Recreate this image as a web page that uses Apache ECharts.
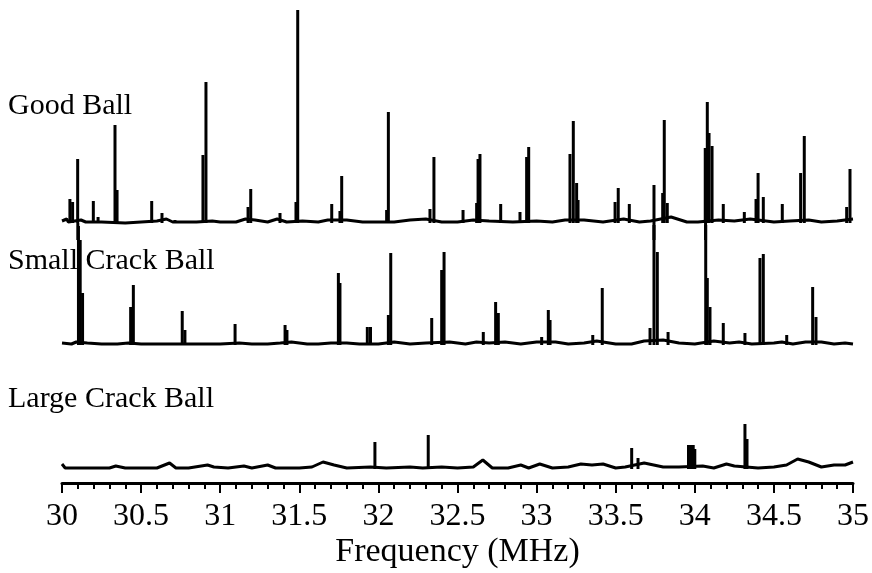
<!DOCTYPE html>
<html>
<head>
<meta charset="utf-8">
<script src="https://cdn.jsdelivr.net/npm/echarts@6/dist/echarts.min.js"></script>
<style>
  html, body { margin: 0; padding: 0; background: #fff; }
  #main { width: 872px; height: 573px; }
</style>
</head>
<body>
<div id="main"></div>
<script>
// frequency axis (MHz)
const freqMin = 30;
const freqMax = 35;
const freqStep = 0.5;
const spectrumNames = ['Good Ball', 'Small Crack Ball', 'Large Crack Ball'];

// peaks: [frequency MHz, amplitude]
const goodPeaks = [
  [30.05, 24], [30.067, 21], [30.099, 64], [30.1, -17], [30.198, 22], [30.228, 6],
  [30.335, 98], [30.348, 33], [30.567, 22], [30.632, 10], [30.714, 3],
  [30.891, 68], [30.91, 141], [31.176, 16], [31.193, 34], [31.378, 10],
  [31.479, 21], [31.49, 213], [31.705, 19], [31.757, 12], [31.768, 47],
  [32.052, 13], [32.063, 111], [32.326, 14], [32.351, 66], [32.535, 13],
  [32.621, 20], [32.63, 64], [32.642, 69], [32.773, 19], [32.895, 11],
  [32.937, 66], [32.95, 76], [33.211, 69], [33.232, 102], [33.253, 40],
  [33.262, 23], [33.496, 21], [33.516, 35], [33.586, 19], [33.742, 38], [33.742, -17],
  [33.797, 30], [33.807, 103], [33.826, 20], [34.066, 75], [34.068, -17], [34.079, 121],
  [34.09, 90], [34.109, 77], [34.18, 19], [34.313, 11], [34.387, 24],
  [34.4, 50], [34.433, 26], [34.553, 19], [34.669, 50], [34.692, 87],
  [34.96, 16], [34.981, 54]
];
const smallPeaks = [
  [30.104, 119], [30.115, 105], [30.13, 52], [30.434, 38], [30.451, 60],
  [30.76, 34], [30.777, 15], [31.094, 21], [31.41, 20], [31.422, 15],
  [31.747, 72], [31.757, 62], [31.93, 18], [31.95, 18], [32.063, 30],
  [32.078, 92], [32.337, 27], [32.4, 75], [32.415, 93], [32.663, 13],
  [32.741, 43], [32.758, 32], [33.032, 8], [33.074, 35], [33.085, 25],
  [33.355, 10], [33.415, 57], [33.717, 17], [33.742, 120], [33.763, 93],
  [33.831, 13], [34.069, 120], [34.079, 67], [34.096, 38], [34.18, 22],
  [34.317, 12], [34.412, 87], [34.433, 91], [34.581, 10], [34.745, 58],
  [34.766, 28]
];
const largePeaks = [
  [31.978, 27], [32.315, 34], [33.601, 21], [33.641, 11],
  [33.96, 24], [33.975, 24], [33.99, 24], [34.0, 20],
  [34.317, 45], [34.33, 30]
];

// background trace between the peaks: [frequency MHz, amplitude]
const goodBase = [
  [30.0, 2], [30.03, 4], [30.04, 1], [30.08, 2], [30.12, 3], [30.15, 1], [30.25, 1],
  [30.4, 0], [30.5, 1], [30.6, 2], [30.66, 4], [30.7, 1], [30.78, 1], [30.85, 1],
  [30.95, 2], [31.0, 1], [31.1, 1], [31.16, 4], [31.22, 3], [31.3, 1], [31.36, 4],
  [31.42, 1], [31.52, 2], [31.62, 1], [31.68, 3], [31.8, 3], [31.9, 1], [32.0, 1],
  [32.1, 1], [32.2, 3], [32.3, 4], [32.4, 1], [32.5, 1], [32.6, 3], [32.7, 2],
  [32.85, 1], [33.0, 2], [33.1, 1], [33.18, 3], [33.3, 3], [33.42, 1], [33.55, 4],
  [33.65, 1], [33.72, 2], [33.85, 6], [33.95, 1], [34.02, 1], [34.15, 3], [34.25, 2],
  [34.35, 4], [34.5, 1], [34.6, 2], [34.72, 3], [34.8, 1], [34.9, 2], [35.0, 4]
];
const smallBase = [
  [30.0, 2], [30.06, 1], [30.09, 3], [30.16, 2], [30.25, 1], [30.35, 1], [30.42, 2],
  [30.5, 1], [30.6, 1], [30.7, 1], [30.82, 1], [30.9, 1], [31.0, 1], [31.12, 2],
  [31.2, 1], [31.3, 1], [31.38, 2], [31.45, 3], [31.55, 1], [31.62, 1], [31.7, 2],
  [31.8, 2], [31.88, 1], [32.0, 1], [32.1, 3], [32.2, 1], [32.3, 2], [32.45, 3],
  [32.55, 1], [32.62, 3], [32.7, 2], [32.8, 3], [32.9, 1], [33.0, 3], [33.12, 3],
  [33.2, 1], [33.3, 2], [33.38, 4], [33.5, 1], [33.6, 1], [33.68, 4], [33.8, 5],
  [33.9, 2], [34.0, 1], [34.12, 4], [34.22, 2], [34.28, 3], [34.36, 1], [34.5, 2],
  [34.55, 3], [34.62, 1], [34.7, 3], [34.8, 3], [34.88, 1], [34.95, 2], [35.0, 1]
];
const largeBase = [
  [30.0, 5], [30.02, 1], [30.1, 1], [30.2, 1], [30.3, 1], [30.34, 3], [30.4, 1],
  [30.5, 1], [30.6, 1], [30.68, 6], [30.72, 1], [30.8, 1], [30.92, 4], [30.96, 2],
  [31.05, 1], [31.15, 3], [31.2, 1], [31.3, 4], [31.35, 1], [31.5, 1], [31.58, 2],
  [31.65, 7], [31.72, 4], [31.8, 1], [31.95, 2], [32.05, 1], [32.2, 2], [32.28, 1],
  [32.4, 2], [32.5, 1], [32.6, 2], [32.66, 9], [32.72, 1], [32.82, 1], [32.9, 4],
  [32.95, 1], [33.02, 5], [33.1, 1], [33.2, 2], [33.28, 5], [33.35, 4], [33.42, 5],
  [33.5, 1], [33.56, 2], [33.68, 6], [33.8, 2], [33.9, 2], [34.05, 3], [34.12, 1],
  [34.2, 5], [34.25, 3], [34.4, 1], [34.5, 2], [34.58, 4], [34.65, 10], [34.72, 7],
  [34.8, 2], [34.88, 4], [34.95, 4], [35.0, 7]
];

const serif = '"Liberation Serif", "Times New Roman", serif';
const ink = '#000';

// panels: top px, height px, amplitude range shown
const panels = [
  {top: 3, height: 240, min: -20, max: 220, titleTop: 91, base: goodBase, peaks: goodPeaks},
  {top: 215, height: 130, min: 0, max: 130, titleTop: 246, base: smallBase, peaks: smallPeaks},
  {top: 409, height: 60, min: 0, max: 60, titleTop: 384, base: largeBase, peaks: largePeaks}
];

const grids = panels.map(p => ({left: 62, right: 19, top: p.top, height: p.height}));

const xAxes = panels.map((p, i) => {
  const last = i === panels.length - 1;
  return {
    type: 'value',
    gridIndex: i,
    min: freqMin,
    max: freqMax,
    interval: freqStep,
    show: last,
    offset: last ? 14 : 0,
    name: last ? 'Frequency (MHz)' : '',
    nameLocation: 'middle',
    nameGap: 52,
    nameTextStyle: {fontFamily: serif, fontSize: 34, color: ink},
    axisLine: {show: last, onZero: false, lineStyle: {color: ink, width: 3}},
    axisTick: {show: last, length: 10, lineStyle: {color: ink, width: 2}},
    minorTick: {show: last, splitNumber: 5, length: 6, lineStyle: {color: ink, width: 2}},
    axisLabel: {
      show: last,
      margin: 18,
      fontFamily: serif,
      fontSize: 32,
      color: ink,
      formatter: v => String(+v.toFixed(1))
    },
    splitLine: {show: false}
  };
});

const yAxes = panels.map((p, i) => ({
  type: 'value',
  gridIndex: i,
  min: p.min,
  max: p.max,
  show: false,
  splitLine: {show: false}
}));

const series = [];
panels.forEach((p, i) => {
  series.push({
    type: 'line',
    name: spectrumNames[i],
    xAxisIndex: i,
    yAxisIndex: i,
    data: p.base,
    symbol: 'none',
    lineStyle: {color: ink, width: 3},
    z: 2
  });
  series.push({
    type: 'bar',
    name: spectrumNames[i] + ' peaks',
    xAxisIndex: i,
    yAxisIndex: i,
    data: p.peaks,
    barWidth: 3,
    itemStyle: {color: ink},
    z: 3
  });
});

const titles = panels.map((p, i) => ({
  text: spectrumNames[i],
  left: 8,
  top: p.titleTop,
  padding: 0,
  textStyle: {fontFamily: serif, fontSize: 30, fontWeight: 'normal', color: ink}
}));

const myChart = echarts.init(document.getElementById('main'));
myChart.setOption({
  animation: false,
  backgroundColor: '#fff',
  title: titles,
  grid: grids,
  xAxis: xAxes,
  yAxis: yAxes,
  series
});
</script>
</body>
</html>
